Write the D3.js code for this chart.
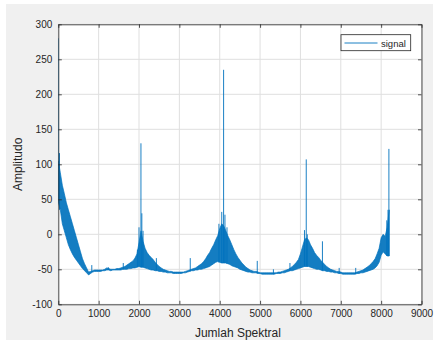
<!DOCTYPE html>
<html>
<head>
<meta charset="utf-8">
<script src="https://cdn.jsdelivr.net/npm/d3@7/dist/d3.min.js"></script>
<style>
  html, body { margin: 0; padding: 0; background: #ffffff; }
  svg { display: block; font-family: "Liberation Sans", Arial, Helvetica, sans-serif; }
</style>
</head>
<body>
<svg id="chart" width="441" height="342"></svg>
<script>
// Spectrum bins (one every 50 spectral lines)
const binStep = 50;
const bins = d3.range(0, 8201, binStep);

// Upper edge of the dense noise band at each bin
const bandHigh = [
  105, 88, 70, 58, 45, 35, 25, 15, 5, -5,
  -15, -25, -35, -42, -48, -54, -53, -52, -51, -51,
  -51, -51, -51, -50, -48, -49, -50, -50, -50, -49,
  -49, -48, -47, -46, -44, -42, -40, -38, -34, -28,
  -12, 5, -10, -20, -26, -30, -33, -36, -40, -43,
  -46, -48, -50, -51, -52, -53, -53, -54, -54, -54,
  -54, -54, -54, -53, -52, -51, -50, -49, -48, -46,
  -44, -42, -39, -35, -30, -26, -20, -15, -8, -2,
  8, 15, 12, 5, -2, -8, -15, -22, -28, -33,
  -37, -41, -44, -47, -49, -51, -52, -53, -53, -54,
  -55, -55, -55, -55, -55, -55, -55, -55, -55, -54,
  -54, -53, -52, -51, -50, -48, -46, -43, -40, -36,
  -28, -18, -8, -5, -8, -15, -20, -26, -30, -33,
  -37, -40, -43, -46, -48, -50, -51, -52, -53, -53,
  -54, -55, -55, -55, -55, -55, -55, -55, -54, -53,
  -52, -51, -49, -47, -45, -42, -39, -35, -28, -20,
  -5, 0, -3, 10, 35
];

// Lower edge of the noise band at each bin
const bandLow = [
  45, 35, 15, 5, -5, -15, -22, -28, -33, -37,
  -41, -45, -49, -52, -55, -58, -56, -54, -53, -53,
  -53, -53, -52, -52, -51, -51, -52, -51, -51, -51,
  -51, -51, -50, -50, -50, -49, -49, -48, -48, -47,
  -46, -47, -47, -48, -49, -50, -51, -51, -52, -52,
  -53, -53, -54, -54, -55, -55, -55, -56, -56, -56,
  -56, -56, -55, -55, -54, -53, -52, -52, -51, -51,
  -50, -50, -49, -48, -47, -46, -44, -42, -40, -39,
  -40, -41, -41, -41, -42, -43, -45, -46, -47, -48,
  -50, -51, -52, -53, -54, -54, -55, -55, -55, -56,
  -56, -57, -57, -57, -57, -57, -57, -57, -56, -56,
  -56, -55, -55, -54, -53, -52, -52, -51, -50, -49,
  -48, -47, -46, -46, -46, -47, -48, -49, -50, -50,
  -51, -52, -52, -53, -53, -54, -54, -55, -55, -56,
  -56, -57, -57, -57, -57, -57, -57, -57, -56, -56,
  -55, -55, -54, -53, -52, -51, -50, -48, -45, -40,
  -30, -25, -28, -31, -31
];

// Isolated spectral lines: position and peak amplitude
const spikeX = [0, 30, 830, 1240, 1610, 1960, 2000, 2048, 2070, 2100, 2430, 3270,
  3980, 4050, 4096, 4130, 4180, 4930, 5330, 5740, 6100, 6144, 6170, 6545, 6960, 7370, 8140, 8170, 8192];
const spikeY = [280, 116, -44, -47, -41, -22, 10, 130, 30, 5, -34, -34,
  15, 32, 235, 28, 10, -38, -50, -41, 6, 107, 0, -10, -48, -48, 20, 35, 122];

const xTicks = [0, 1000, 2000, 3000, 4000, 5000, 6000, 7000, 8000, 9000];
const yTicks = [-100, -50, 0, 50, 100, 150, 200, 250, 300];

const svg = d3.select("#chart");
const m = { left: 58.3, right: 421.5, top: 24.3, bottom: 304.3 };

// Figure background
svg.append("rect").attr("x", 6).attr("y", 4).attr("width", 427).attr("height", 336).attr("fill", "#f0f0f0");
svg.append("rect").attr("x", m.left).attr("y", m.top)
  .attr("width", m.right - m.left).attr("height", m.bottom - m.top).attr("fill", "#ffffff");

const x = d3.scaleLinear().domain([0, 9000]).range([m.left, m.right]);
const y = d3.scaleLinear().domain([-100, 300]).range([m.bottom, m.top]);

// Grid
const grid = svg.append("g").attr("stroke", "#dfdfdf").attr("stroke-width", 1);
xTicks.forEach(t => grid.append("line").attr("x1", x(t)).attr("x2", x(t)).attr("y1", m.top).attr("y2", m.bottom));
yTicks.forEach(t => grid.append("line").attr("y1", y(t)).attr("y2", y(t)).attr("x1", m.left).attr("x2", m.right));

svg.append("clipPath").attr("id", "plotclip").append("rect")
  .attr("x", m.left).attr("y", m.top).attr("width", m.right - m.left).attr("height", m.bottom - m.top);
const plot = svg.append("g").attr("clip-path", "url(#plotclip)");

// Signal: the noise band between its edges, outlined, then the isolated lines
const band = bins.map((b, i) => ({ b, lo: bandLow[i], hi: bandHigh[i] }));
const area = d3.area().x(d => x(d.b)).y0(d => y(d.lo)).y1(d => y(d.hi)).curve(d3.curveLinear);
plot.append("path").attr("d", area(band)).attr("fill", "#0072bd").attr("fill-opacity", 0.92)
  .attr("stroke", "#0072bd").attr("stroke-width", 0.7).attr("stroke-linejoin", "round");

const baseAt = v => bandLow[Math.min(bandLow.length - 1, Math.round(v / binStep))];
spikeX.forEach((sx, i) => {
  plot.append("line").attr("x1", x(sx)).attr("x2", x(sx))
    .attr("y1", y(baseAt(sx))).attr("y2", y(spikeY[i]))
    .attr("stroke", "#0072bd").attr("stroke-width", 0.9);
});

// Axes (box with inward ticks on all sides)
const tickLen = 3.5;
const fmt = d => String(d);
const bottomAxis = d3.axisBottom(x).tickValues(xTicks).tickSizeInner(-tickLen).tickSizeOuter(0).tickPadding(6).tickFormat(fmt);
const leftAxis = d3.axisLeft(y).tickValues(yTicks).tickSizeInner(-tickLen).tickSizeOuter(0).tickPadding(6).tickFormat(fmt);
const topAxis = d3.axisTop(x).tickValues(xTicks).tickSizeInner(-tickLen).tickSizeOuter(0).tickFormat("");
const rightAxis = d3.axisRight(y).tickValues(yTicks).tickSizeInner(-tickLen).tickSizeOuter(0).tickFormat("");

function styleAxis(g) {
  g.selectAll(".domain").attr("stroke", "#262626").attr("stroke-width", 0.8);
  g.selectAll(".tick line").attr("stroke", "#262626").attr("stroke-width", 0.8);
  g.selectAll(".tick text").attr("fill", "#262626").attr("font-size", 10)
    .attr("font-family", "Liberation Sans, Arial, sans-serif");
}
svg.append("g").attr("transform", `translate(0,${m.bottom})`).call(bottomAxis).call(styleAxis);
svg.append("g").attr("transform", `translate(${m.left},0)`).call(leftAxis).call(styleAxis);
svg.append("g").attr("transform", `translate(0,${m.top})`).call(topAxis).call(styleAxis);
svg.append("g").attr("transform", `translate(${m.right},0)`).call(rightAxis).call(styleAxis);

// Axis labels
svg.append("text").attr("x", (m.left + m.right) / 2 - 2).attr("y", 337)
  .attr("text-anchor", "middle").attr("font-size", 12).attr("fill", "#262626").text("Jumlah Spektral");
svg.append("text").attr("transform", `translate(22,${(m.top + m.bottom) / 2}) rotate(-90)`)
  .attr("text-anchor", "middle").attr("font-size", 12).attr("fill", "#262626").text("Amplitudo");

// Legend
const lg = svg.append("g");
lg.append("rect").attr("x", 341).attr("y", 34.7).attr("width", 69.7).attr("height", 16)
  .attr("fill", "#ffffff").attr("stroke", "#262626").attr("stroke-width", 0.8);
lg.append("line").attr("x1", 344.5).attr("x2", 377.5).attr("y1", 43).attr("y2", 43)
  .attr("stroke", "#0072bd").attr("stroke-width", 0.9);
lg.append("text").attr("x", 381).attr("y", 46.5).attr("font-size", 9.5).attr("fill", "#262626").text("signal");
</script>
</body>
</html>
